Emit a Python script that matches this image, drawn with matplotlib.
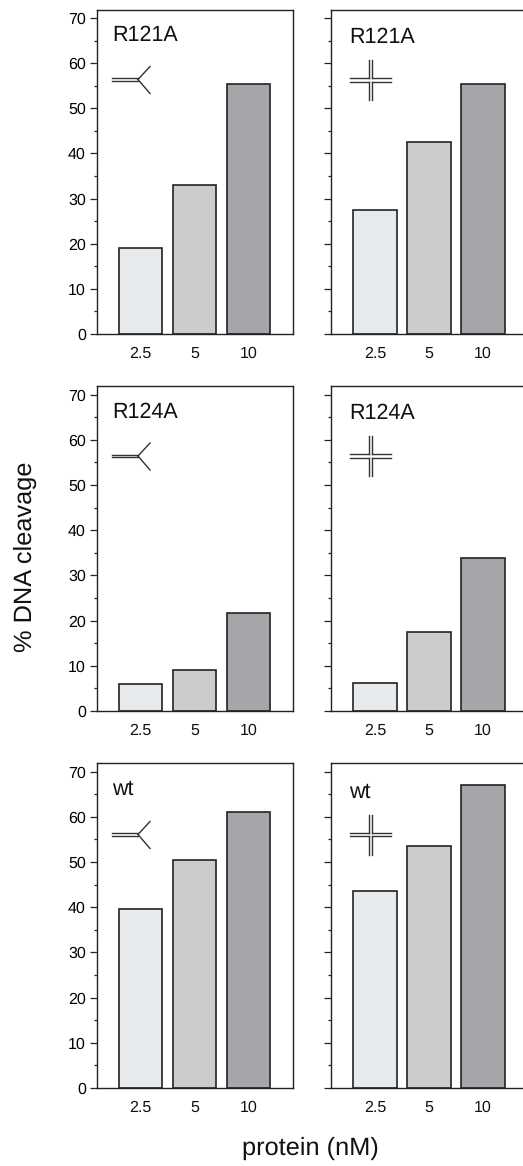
import matplotlib
matplotlib.use('Agg')
import matplotlib.pyplot as plt
from matplotlib.lines import Line2D

W, H = 523, 1166
plt.rcParams['font.family'] = ['Liberation Sans', 'DejaVu Sans']
plt.rcParams['text.hinting'] = 'no_hinting'

# Data
doses = ['2.5', '5', '10']
r121a_fork = [19, 33, 55.5]
r121a_cross = [27.5, 42.5, 55.5]
r124a_fork = [6, 9, 21.7]
r124a_cross = [6.2, 17.5, 33.8]
wt_fork = [39.5, 50.5, 61]
wt_cross = [43.5, 53.5, 67]
names = ['R121A', 'R124A', 'wt']
bar_colors = ['#E6EAED', '#CBCDCC', '#A5A6A9']

# pixel layout: axes top/bottom per row, left/right per column
rows = [(9.5, 334), (386, 711), (763, 1088)]
cols = [(97, 293, -0.806, 2.824), (331, 527, -0.815, 2.815)]
line_c = '#222222'

fig = plt.figure(figsize=(W / 100, H / 100), dpi=100)


def px_line(xs, ys, lw=1.0, c='#333333'):
    fig.add_artist(Line2D([x / W for x in xs], [1 - y / H for y in ys],
                          color=c, lw=lw, transform=fig.transFigure))


def fork(x, y):
    # double line arm then the two single arms
    px_line([x, x + 26], [y - 1.3, y - 1.3])
    px_line([x, x + 26], [y + 1.3, y + 1.3])
    px_line([x + 26, x + 38], [y, y - 13])
    px_line([x + 26, x + 38], [y, y + 14])


def cross(x, y):
    cx = x + 20.7
    for d in (-1.7, 1.7):
        px_line([x, cx - 1.7], [y + d, y + d])
        px_line([cx + 1.7, x + 41], [y + d, y + d])
        px_line([cx + d, cx + d], [y - 20, y - 1.7])
        px_line([cx + d, cx + d], [y + 1.7, y + 20])


def panel(row, col, values, label, label_xy):
    top, bottom = rows[row]
    left, right, x0, x1 = cols[col]
    ax = fig.add_axes([left / W, 1 - bottom / H, (right - left) / W, (bottom - top) / H])
    ax.bar(range(3), values, width=0.81, color=bar_colors, edgecolor='#222222', linewidth=1.2)
    ax.set_xlim(x0, x1)
    ax.set_ylim(0, 71.9)
    ax.set_xticks(range(3))
    ax.set_xticklabels(doses, fontsize=11.5, color='#111111')
    ax.tick_params(axis='x', length=0, pad=8.5)
    ax.set_yticks(range(0, 71, 10))
    ax.set_yticks(range(5, 70, 10), minor=True)
    ax.tick_params(axis='y', which='major', length=5, width=0.9, color=line_c, labelsize=11.5, pad=3)
    ax.tick_params(axis='y', which='minor', length=2.5, width=0.9, color=line_c)
    if col == 1:
        ax.tick_params(axis='y', labelleft=False)
    for s in ax.spines.values():
        s.set_linewidth(1.0)
        s.set_color(line_c)
    fig.text(label_xy[0] / W, 1 - label_xy[1] / H, label, fontsize=15.5, va='center', color='#111111')
    return ax


panel(0, 0, r121a_fork, names[0], (112.5, 35))
panel(0, 1, r121a_cross, names[0], (349, 37))
panel(1, 0, r124a_fork, names[1], (112.5, 412))
panel(1, 1, r124a_cross, names[1], (349, 413))
panel(2, 0, wt_fork, names[2], (112.5, 789))
panel(2, 1, wt_cross, names[2], (349, 792))

fork(112, 79.5)
cross(350, 80)
fork(112, 456)
cross(350, 456)
fork(112, 834.5)
cross(350, 834.5)

fig.text(25 / W, 1 - 557 / H, '% DNA cleavage', rotation=90, fontsize=18.3,
         ha='center', va='center', color='#111111')
fig.text(310.5 / W, 1 - 1148 / H, 'protein (nM)', fontsize=18.3,
         ha='center', va='center', color='#111111')

fig.savefig('out.png', dpi=100)
